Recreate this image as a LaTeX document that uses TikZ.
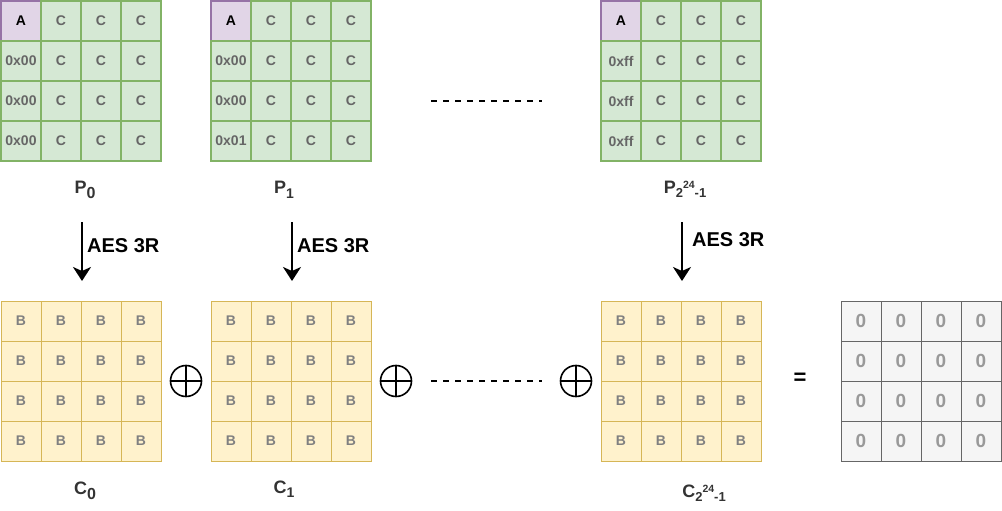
\documentclass[tikz,border=0pt]{standalone}
\usepackage{fontspec}
\setmainfont{Liberation Sans}
\usetikzlibrary{arrows.meta}
\definecolor{gfill}{HTML}{D5E8D4}
\definecolor{gdraw}{HTML}{82B366}
\definecolor{pfill}{HTML}{E1D5E7}
\definecolor{pdraw}{HTML}{9673A6}
\definecolor{yfill}{HTML}{FFF2CC}
\definecolor{ydraw}{HTML}{D6B656}
\definecolor{zfill}{HTML}{F5F5F5}
\definecolor{zdraw}{HTML}{666666}
\definecolor{ctext}{HTML}{666666}
\definecolor{btext}{HTML}{808080}
\definecolor{ztext}{HTML}{999999}
\definecolor{ltext}{HTML}{333333}
\newcommand{\fs}[1]{\fontsize{#1}{#1}\selectfont}
\tikzset{
  cellbase/.style={minimum size=40pt, inner sep=0pt, outer sep=0pt},
  cellg/.style={cellbase, draw=gdraw, fill=gfill, line width=1.6pt, text=ctext, font=\fs{14}\bfseries},
  cella/.style={cellbase, draw=pdraw, fill=pfill, line width=1.6pt, text=black, font=\fs{14}\bfseries},
  celly/.style={cellbase, draw=ydraw, fill=yfill, line width=0.8pt, text=btext, font=\fs{14}\bfseries},
  cellz/.style={cellbase, draw=zdraw, fill=zfill, line width=0.8pt, text=ztext, font=\fs{19}\bfseries},
  lbl/.style={inner sep=0pt, text=ltext, font=\fs{18}\bfseries},
  aeslbl/.style={inner sep=0pt, anchor=west, text=black, font=\fs{20}\bfseries},
  aesarrow/.style={line width=2pt, -{Stealth[length=14pt, width=18pt, inset=4pt]}},
  xorsym/.style={circle, draw, line width=1.6pt, minimum size=31pt, inner sep=0pt},
  dots/.style={line width=2pt, dash pattern=on 6pt off 6pt},
}
\begin{document}
\begin{tikzpicture}[x=1pt, y=-1pt]
\useasboundingbox (0,0) rectangle (1002,511);
% plaintext grids
\foreach \nm/\xo/\ta/\tb/\tc in {P0/1/0x00/0x00/0x00, P1/211/0x00/0x00/0x01, Pn/601/0xff/0xff/0xff}{
  \node[cella] (\nm-0-0) at ({\xo+20},21) {A};
  \node[cellg] (\nm-1-0) at ({\xo+20},61) {\ta};
  \node[cellg] (\nm-2-0) at ({\xo+20},101) {\tb};
  \node[cellg] (\nm-3-0) at ({\xo+20},141) {\tc};
  \foreach \r in {0,...,3}{
    \foreach \c in {1,2,3}{
      \node[cellg] (\nm-\r-\c) at ({\xo+20+40*\c},{21+40*\r}) {C};
    }
  }
}
% ciphertext grids
\foreach \nm/\xo in {C0/1, C1/211, Cn/601}{
  \foreach \r in {0,...,3}{
    \foreach \c in {0,...,3}{
      \node[celly] (\nm-\r-\c) at ({\xo+20+40*\c},{321+40*\r}) {B};
    }
  }
}
% zero grid
\foreach \r in {0,...,3}{
  \foreach \c in {0,...,3}{
    \node[cellz] (Z-\r-\c) at ({861+40*\c},{321+40*\r}) {0};
  }
}
% labels
\node[lbl, anchor=base] (lP0) at (85,193) {P\raisebox{-5pt}{\fs{16}0}};
\node[lbl, anchor=base] (lP1) at (284,193) {P\raisebox{-5pt}{\fs{14}1}};
\node[lbl, anchor=base] (lPn) at (685,193) {P\raisebox{-4pt}{\fs{13}2}\raisebox{4.5pt}{\fs{10.5}24}\raisebox{-4pt}{\fs{13}-1}};
\node[lbl, anchor=base] (lC0) at (85,494) {C\raisebox{-5pt}{\fs{16}0}};
\node[lbl, anchor=base] (lC1) at (284,493) {C\raisebox{-4pt}{\fs{14}1}};
\node[lbl, anchor=base] (lCn) at (704,497) {C\raisebox{-4pt}{\fs{13}2}\raisebox{4.5pt}{\fs{10.5}24}\raisebox{-4pt}{\fs{13}-1}};
% arrows
\coordinate (a0s) at (82,222); \coordinate (a0e) at (82,281);
\coordinate (a1s) at (292,222); \coordinate (a1e) at (292,281);
\coordinate (a2s) at (682,222); \coordinate (a2e) at (682,281);
\draw[aesarrow] (a0s) -- (a0e);
\draw[aesarrow] (a1s) -- (a1e);
\draw[aesarrow] (a2s) -- (a2e);
\node[aeslbl] (t0) at (87,245.5) {AES 3R};
\node[aeslbl] (t1) at (297,245.5) {AES 3R};
\node[aeslbl] (t2) at (692,239.5) {AES 3R};
% xor symbols
\foreach \nm/\x in {x0/186, x1/396, x2/576}{
  \node[xorsym] (\nm) at (\x,381) {};
  \draw[line width=1.6pt] (\nm.north) -- (\nm.south);
  \draw[line width=1.6pt] (\nm.west) -- (\nm.east);
}
% dotted continuations
\coordinate (d0s) at (431,101); \coordinate (d0e) at (542,101);
\coordinate (d1s) at (431,381); \coordinate (d1e) at (542,381);
\draw[dots] (d0s) -- (d0e);
\draw[dots] (d1s) -- (d1e);
% equals
\node[inner sep=0pt, font=\fs{22}\bfseries] (eq) at (800,379) {=};
\end{tikzpicture}
\end{document}
